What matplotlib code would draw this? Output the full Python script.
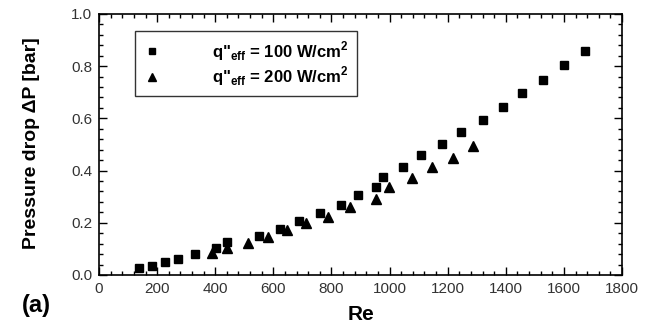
import matplotlib
matplotlib.use("Agg")
import matplotlib.pyplot as plt
from matplotlib.ticker import MultipleLocator, FormatStrFormatter

plt.rcParams['font.family'] = ['Liberation Sans', 'DejaVu Sans']
plt.rcParams['mathtext.fontset'] = 'custom'
plt.rcParams['mathtext.rm'] = 'Liberation Sans:bold'
plt.rcParams['mathtext.bf'] = 'Liberation Sans:bold'

re_100 = [139, 182, 227, 272, 331, 404, 440, 549, 623, 689, 762, 832, 890, 953,
          976, 1047, 1109, 1180, 1247, 1322, 1391, 1455, 1527, 1600, 1672]
dp_100 = [0.028, 0.034, 0.050, 0.062, 0.079, 0.102, 0.128, 0.151, 0.177, 0.207,
          0.236, 0.268, 0.306, 0.338, 0.377, 0.415, 0.459, 0.501, 0.547, 0.593,
          0.642, 0.699, 0.747, 0.805, 0.857]
re_200 = [388, 442, 512, 582, 646, 711, 787, 864, 953, 999, 1076, 1146, 1219, 1288]
dp_200 = [0.083, 0.102, 0.124, 0.147, 0.172, 0.198, 0.223, 0.259, 0.290, 0.337,
          0.373, 0.413, 0.449, 0.494]
labels = [r'q"$_{\mathrm{eff}}$ = 100 W/cm$^{\mathrm{2}}$',
          r'q"$_{\mathrm{eff}}$ = 200 W/cm$^{\mathrm{2}}$']

fig = plt.figure(figsize=(6.48, 3.25), dpi=100)
ax = fig.add_axes([0.1528, 0.154, 0.8071, 0.803])

ax.plot(re_100, dp_100, 's', color='black', markersize=5.6, label=labels[0])
ax.plot(re_200, dp_200, '^', color='black', markersize=6.5, label=labels[1])

ax.set_xlim(0, 1800)
ax.set_ylim(0, 1.0)
ax.xaxis.set_major_locator(MultipleLocator(200))
ax.xaxis.set_minor_locator(MultipleLocator(40))
ax.yaxis.set_major_locator(MultipleLocator(0.2))
ax.yaxis.set_minor_locator(MultipleLocator(0.04))
ax.yaxis.set_major_formatter(FormatStrFormatter('%.1f'))
ax.tick_params(which='both', direction='in', top=True, right=True, width=1.0,
               labelsize=11, colors='black')
ax.tick_params(which='major', length=6, pad=5)
ax.tick_params(which='minor', length=3)
for tl in ax.get_xticklabels() + ax.get_yticklabels():
    tl.set_color('#333333')
for s in ax.spines.values():
    s.set_linewidth(1.2)

ax.set_xlabel('Re', fontsize=15, fontweight='bold')
ax.xaxis.set_label_coords(0.5, -0.115)
ax.set_ylabel('Pressure drop \u0394P [bar]', fontsize=14, fontweight='bold')
ax.yaxis.set_label_coords(-0.112, 0.505)

leg = ax.legend(loc='upper left', bbox_to_anchor=(0.069, 0.701, 0.424, 0.234),
                mode='expand', bbox_transform=ax.transAxes, frameon=True,
                fancybox=False, edgecolor='black', handletextpad=3.1,
                borderpad=0.5, labelspacing=0.1, prop={'weight': 'bold', 'size': 12},
                handlelength=1.0, borderaxespad=0, markerscale=0.8)
leg.get_frame().set_linewidth(1.0)

fig.text(0.034, 0.04, '(a)', fontsize=17, fontweight='bold')

fig.savefig('out.png', dpi=100)
